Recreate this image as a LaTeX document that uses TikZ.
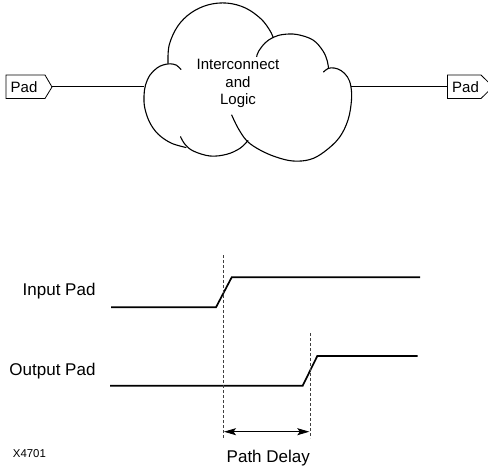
\documentclass[tikz,border=0pt]{standalone}
\usepackage{fontspec}
\setmainfont{Liberation Sans}
\usetikzlibrary{arrows.meta}
\begin{document}
\begin{tikzpicture}[x=1pt,y=-1pt,
  cloudline/.style={line width=1.1pt, line cap=round},
  wire/.style={line width=0.8pt},
  padbox/.style={line width=0.8pt, line join=miter},
  padtext/.style={inner sep=0pt, anchor=base, font=\fontsize{15}{17}\selectfont},
  cloudtext/.style={inner sep=0pt, align=center, font=\fontsize{15}{17.5}\selectfont},
  wave/.style={line width=1.7pt, line join=miter},
  guide/.style={line width=0.6pt, dash pattern=on 3pt off 2pt, black!75},
  delay/.style={line width=0.8pt, {Stealth[length=12pt,width=7pt,inset=2.5pt]}-{Stealth[length=12pt,width=7pt,inset=2.5pt]}},
  lbl/.style={inner sep=0pt, font=\fontsize{17}{20}\selectfont},
]
\useasboundingbox (0,0) rectangle (488,469);

% ---- pads ----
\draw[padbox] (6,75) -- (45,75) -- (52,87) -- (45,98.5) -- (6,98.5) -- cycle;
\node[padtext] (padL) at (24,92.7) {Pad};
\coordinate (padLtip) at (52,86.8);

\draw[padbox] (447.5,75) -- (481,75) -- (493,86.8) -- (481,98.5) -- (447.5,98.5) -- cycle;
\node[padtext] (padR) at (465.5,92.7) {Pad};
\coordinate (padRin) at (447.5,86.8);

% ---- cloud ----
% left lobe
\draw[cloudline] plot[smooth, tension=0.6] coordinates {(181,69.5) (176.5,65.2) (170,63.8) (163,65) (157,68) (150,75) (145.5,85) (144,96) (144.8,108) (149.5,122) (158,134) (171,143) (186,147.5)};
% bottom lobe
\draw[cloudline] plot[smooth, tension=0.6] coordinates {(180.5,136.7) (185,144.3) (193.3,151) (210,156) (226.7,154.3) (240,148.3) (248,140.5)};
% bottom-right lobe
\draw[cloudline] plot[smooth, tension=0.6] coordinates {(231.7,115) (238,128) (247,141) (260,150) (276,157) (293,161) (310,159.5) (324,152) (339,138) (348,120) (351.5,100) (350.8,86) (347.5,77) (341,70.5) (334,68) (328,68.5) (323.5,72)};
% top-right lobe
\draw[cloudline] plot[smooth, tension=0.6] coordinates {(256.7,56.5) (258.5,51.5) (265,43) (273,37.5) (283,34.5) (297,34.5) (313,40) (323,51) (327.3,61) (328.5,68.5)};
% top lobe
\draw[cloudline] plot[smooth, tension=0.6] coordinates {(168,63.3) (169.2,45) (177.7,26.2) (191.1,12.8) (208.3,4.8) (227.2,3.1) (245.5,8.0) (261,18.9) (269.7,30.2) (273.3,37.7)};

\coordinate (cloudW) at (144,86.8);
\coordinate (cloudE) at (350.8,86.8);
\node[cloudtext] (logic) at (238,83.8) {Interconnect\\and\\Logic};

\draw[wire] (padLtip) -- (cloudW);
\draw[wire] (cloudE) -- (padRin);

% ---- timing ----
\coordinate (i0) at (111,307.3);
\coordinate (i1) at (216,307.3);
\coordinate (i2) at (231.7,277.3);
\coordinate (i3) at (420,277.3);
\draw[wave] (i0) -- (i1) -- (i2) -- (i3);

\coordinate (o0) at (110,385.7);
\coordinate (o1) at (302.7,385.7);
\coordinate (o2) at (317.3,356);
\coordinate (o3) at (417.7,356);
\draw[wave] (o0) -- (o1) -- (o2) -- (o3);

\coordinate (g1t) at (223.3,255);
\coordinate (g1b) at (223.3,438.3);
\coordinate (g2t) at (310,333.3);
\coordinate (g2b) at (310,438.3);
\draw[guide] (g1t) -- (g1b);
\draw[guide] (g2t) -- (g2b);

\coordinate (d1) at (224,431.7);
\coordinate (d2) at (309.3,431.7);
\draw[delay] (d1) -- (d2);

\node[lbl, anchor=base east] (inlbl) at (95.7,295) {Input Pad};
\node[lbl, anchor=base east] (outlbl) at (95.7,375) {Output Pad};
\node[lbl, anchor=base] (delaylbl) at (268.3,462) {Path Delay};
\node[inner sep=0pt, anchor=base west, font=\fontsize{11.4}{13}\selectfont] (fig) at (12.7,457) {X4701};
\end{tikzpicture}
\end{document}
